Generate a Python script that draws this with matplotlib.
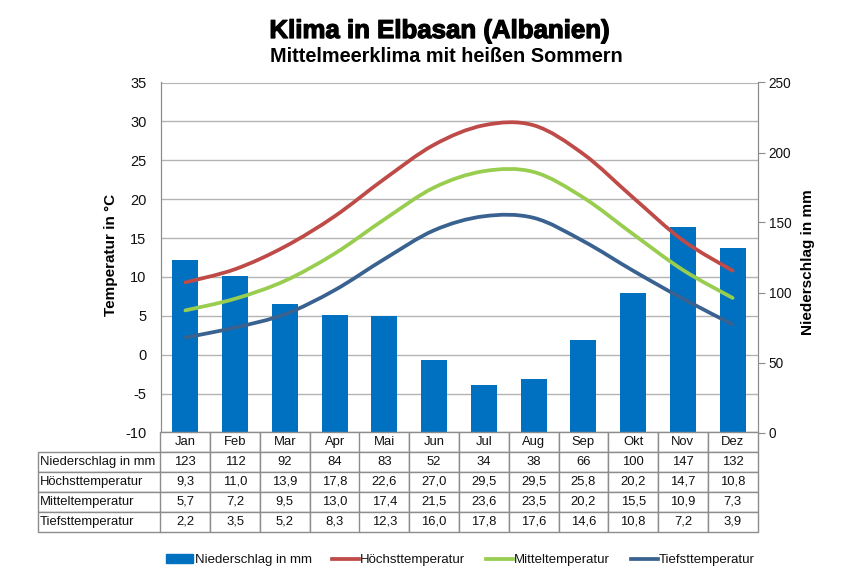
import numpy as np
import matplotlib
matplotlib.use('Agg')
import matplotlib.pyplot as plt
import matplotlib.patheffects as pe
from matplotlib.path import Path
from matplotlib.patches import PathPatch, Patch
from matplotlib.lines import Line2D
from matplotlib.table import Table

months = ['Jan', 'Feb', 'Mar', 'Apr', 'Mai', 'Jun', 'Jul', 'Aug', 'Sep', 'Okt', 'Nov', 'Dez']
rain = [123, 112, 92, 84, 83, 52, 34, 38, 66, 100, 147, 132]
t_max = [9.3, 11.0, 13.9, 17.8, 22.6, 27.0, 29.5, 29.5, 25.8, 20.2, 14.7, 10.8]
t_mean = [5.7, 7.2, 9.5, 13.0, 17.4, 21.5, 23.6, 23.5, 20.2, 15.5, 10.9, 7.3]
t_min = [2.2, 3.5, 5.2, 8.3, 12.3, 16.0, 17.8, 17.6, 14.6, 10.8, 7.2, 3.9]

rain_label = 'Niederschlag in mm'
max_label = 'Höchsttemperatur'
mean_label = 'Mitteltemperatur'
min_label = 'Tiefsttemperatur'

BLUE = '#0070C0'
RED = '#BE4B48'
GREEN = '#98CD50'
NAVY = '#3A6290'
GRAY = '#8C8C8C'

plt.rcParams['font.family'] = ['Liberation Sans', 'DejaVu Sans']
plt.rcParams['axes.unicode_minus'] = False


def smooth_path(values):
    # same kind of smoothing as the Excel line option (Catmull-Rom)
    x = np.arange(len(values), dtype=float)
    y = np.array(values, dtype=float)
    pts = np.column_stack([x, y])
    ext = np.vstack([pts[0], pts, pts[-1]])
    verts = [pts[0]]
    codes = [Path.MOVETO]
    for i in range(len(pts) - 1):
        verts.append(ext[i + 1] + (ext[i + 2] - ext[i]) / 6)
        verts.append(ext[i + 2] - (ext[i + 3] - ext[i + 1]) / 6)
        verts.append(ext[i + 2])
        codes += [Path.CURVE4] * 3
    return Path(verts, codes)


W, H = 848, 588
L, R, T, B = 160.5, 757.5, 82.5, 432.5

fig = plt.figure(figsize=(W / 100, H / 100), dpi=100)
ax = fig.add_axes([L / W, 1 - B / H, (R - L) / W, (B - T) / H])
ax.set_xlim(-0.5, 11.5)
ax.set_ylim(-10, 35)
ax.set_yticks(range(-10, 36, 5))
ax.set_xticks([])
ax.tick_params(axis='y', length=0, labelsize=10.5, pad=10, colors='#111111')
ax.grid(axis='y', color='#B4B4B4', lw=1)
ax.set_axisbelow(True)
for s in ax.spines.values():
    s.set_color(GRAY)
ax.spines['top'].set_color('#B4B4B4')

# bars on the right axis
ax_rain = ax.twinx()
ax_rain.set_ylim(0, 250)
ax_rain.set_yticks(range(0, 251, 50))
ax_rain.tick_params(axis='y', length=5, labelsize=9.8, pad=3, labelcolor='#111111', color=GRAY)
ax_rain.bar(range(12), rain, width=0.52, color=BLUE)
for s in ax_rain.spines.values():
    s.set_color(GRAY)
ax_rain.spines['top'].set_visible(False)

# lines above the bars, same scale as the left axis
ax_line = ax.twinx()
ax_line.set_ylim(-10, 35)
ax_line.axis('off')
for vals, col in [(t_max, RED), (t_mean, GREEN), (t_min, NAVY)]:
    ax_line.add_patch(PathPatch(smooth_path(vals), fc='none', ec=col, lw=2.7, capstyle='round'))

# data table under the plot
axw, axh = R - L, B - T
tbl_l, tbl_b = 37.5, 531.5
tbl = Table(ax_line, bbox=[(tbl_l - L) / axw, (B - tbl_b) / axh, (R - tbl_l) / axw, (tbl_b - B) / axh])
tbl.auto_set_font_size(False)
rows = [(rain_label, [str(v) for v in rain])]
for name, vals in [(max_label, t_max), (mean_label, t_mean), (min_label, t_min)]:
    rows.append((name, [f'{v:.1f}'.replace('.', ',') for v in vals]))
col_w = axw / 12
for c, m in enumerate(months):
    tbl.add_cell(0, c + 1, col_w, 20, text=m, loc='center', edgecolor=GRAY)
for r, (name, vals) in enumerate(rows, start=1):
    cell = tbl.add_cell(r, 0, L - tbl_l, 20, text=name, loc='left', edgecolor=GRAY)
    cell.PAD = 0.02
    for c, v in enumerate(vals):
        tbl.add_cell(r, c + 1, col_w, 20, text=v, loc='center', edgecolor=GRAY)
tbl.set_fontsize(9.4)
for cell in tbl.get_celld().values():
    cell.set_linewidth(1)
    cell.get_text().set_color('#111111')
ax_line.add_table(tbl)

fig.text(439.5 / W, 1 - 31 / H, 'Klima in Elbasan (Albanien)', ha='center', va='center',
         fontsize=18.6, fontweight='bold', color='black',
         path_effects=[pe.withStroke(linewidth=0.9, foreground='black')])
fig.text(446 / W, 1 - 57 / H, 'Mittelmeerklima mit heißen Sommern', ha='center', va='center',
         fontsize=14.3, fontweight='bold', color='black')
fig.text(111 / W, 1 - 255 / H, 'Temperatur in °C', rotation=90, ha='center', va='center',
         fontsize=11, fontweight='bold')
fig.text(808 / W, 1 - 262 / H, 'Niederschlag in mm', rotation=90, ha='center', va='center',
         fontsize=11, fontweight='bold')

handles = [Patch(color=BLUE, label=rain_label),
           Line2D([], [], color=RED, lw=2.7, label=max_label),
           Line2D([], [], color=GREEN, lw=2.7, label=mean_label),
           Line2D([], [], color=NAVY, lw=2.7, label=min_label)]
fig.legend(handles=handles, loc='center', bbox_to_anchor=(460.5 / W, 1 - 560 / H), ncols=4,
           frameon=False, fontsize=9.5, handlelength=2.05, handletextpad=0.1, columnspacing=1.55,
           labelcolor='#111111')

fig.savefig('out.png', dpi=100)
